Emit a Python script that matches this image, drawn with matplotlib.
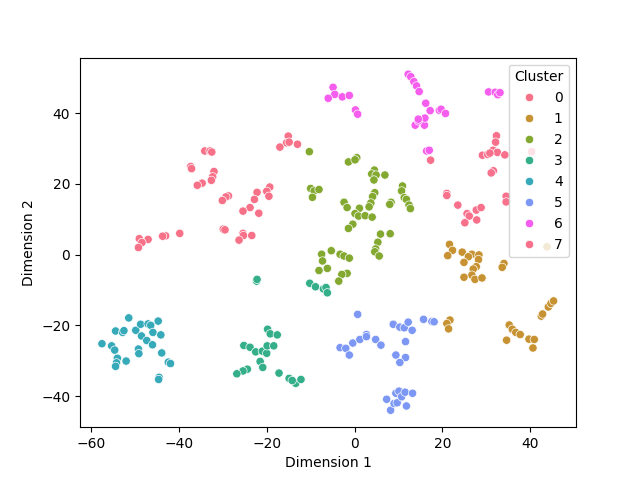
import numpy as np
import pandas as pd
import matplotlib
matplotlib.use('Agg')
import matplotlib.pyplot as plt
import seaborn as sns

# ── Embedding coordinates, read per cluster ─────────────────────────────────
c0_x = [-34.1, -32.9, -32.5, -37.3, -37.1, -32.0, -32.3, -32.6, -34.7, -35.8,
        -19.3, -20.0, -19.5, -22.2, -22.8, -23.8, -25.4, -21.8, -28.7, -29.3,
        -30.1, -29.9, -29.5, -25.4, -25.3, -23.4, -26.3, -39.8, -43.0, -43.7,
        -47.0, -49.0, -48.4, -49.2, -15.1, -15.5, -14.9, -17.0, -13.0]
c0_y = [29.3, 29.3, 29.0, 24.9, 24.3, 23.5, 22.0, 21.0, 20.2, 19.6,
        19.1, 17.9, 16.5, 17.6, 15.6, 13.3, 12.3, 11.7, 16.6, 16.3,
        15.3, 7.2, 7.0, 6.0, 5.4, 5.4, 4.1, 6.0, 5.3, 5.2,
        4.3, 4.5, 3.4, 2.0, 33.5, 31.6, 31.8, 30.4, 31.2]

c1_x = [21.6, 22.3, 21.2, 24.5, 26.7, 25.9, 28.3, 28.2, 24.9, 27.7,
        27.0, 26.7, 24.9, 27.4, 29.0, 34.0, 33.6, 43.8,
        21.7, 21.0, 21.4, 35.2, 35.9, 36.7, 37.7, 34.6, 39.7, 40.9,
        40.6, 42.5, 42.8, 44.1, 44.7, 45.3]
c1_y = [2.9, 1.2, -0.3, 0.7, 0.1, -0.6, -0.1, -1.4, -2.2, -3.4,
        -4.1, -5.8, -6.4, -7.0, -6.6, -2.5, -3.6, 2.2,
        -18.5, -19.5, -21.0, -19.9, -21.1, -22.0, -22.6, -24.2, -23.9, -24.0,
        -26.4, -17.4, -16.8, -14.8, -13.8, -13.1]

c2_x = [-10.3, -1.4, 0.5, 0.1, 4.5, 3.9, 4.9, 6.9, 4.4, 10.9,
        10.7, 11.3, 11.8, 12.4, 12.7, 4.6, 4.1, 3.7, 3.3, 8.3,
        8.0, -10.0, -9.2, -8.1, -9.6, -2.4, -1.7, 1.1, 0.1, 0.9,
        2.4, 4.0, -0.4, -1.4, 5.9, 8.1, 5.3, 4.8, 4.6, 5.6,
        -7.5, -5.3, -7.3, -6.2, -8.1, -3.3, -2.4, -1.2, -1.7, -2.9,
        -3.6]
c2_y = [29.1, 26.2, 27.4, 26.8, 23.9, 22.8, 22.5, 22.5, 21.1, 19.4,
        18.0, 16.1, 15.6, 14.0, 13.0, 17.5, 16.4, 14.6, 13.5, 14.8,
        14.2, 18.7, 18.0, 18.4, 16.2, 14.8, 13.3, 13.1, 11.6, 10.9,
        11.0, 10.6, 8.6, 7.4, 5.8, 5.9, 3.5, 1.6, 0.8, -0.4,
        0.1, 1.1, -1.8, -3.9, -4.5, 0.1, -0.4, -1.0, -5.3, -5.6,
        -7.5]

c3_x = [-22.3, -22.2, -10.2, -8.9, -7.1, -6.5, -6.2,
        -19.8, -19.2, -17.6, -25.2, -23.8, -22.5, -21.0, -20.0, -19.9,
        -18.4, -21.5, -20.9, -24.4, -25.4, -26.8, -17.2, -14.9, -13.4,
        -12.2, -14.2]
c3_y = [-7.5, -7.0, -8.1, -9.1, -9.7, -9.3, -10.8,
        -21.1, -22.4, -22.7, -25.7, -26.2, -27.5, -27.3, -27.9, -25.8,
        -25.8, -30.2, -31.9, -32.4, -32.9, -33.7, -33.5, -35.0, -36.4,
        -35.3, -35.6]

c4_x = [-51.4, -54.4, -52.8, -52.5, -57.5, -55.3, -54.6, -54.0, -54.2, -54.4,
        -52.0, -49.8, -48.7, -47.0, -46.4, -44.7, -48.5, -47.3, -45.9, -44.1,
        -46.0, -49.2, -49.1, -43.9, -42.4, -41.9, -44.5, -44.6]
c4_y = [-17.9, -21.6, -22.0, -21.5, -25.2, -25.8, -27.0, -29.3, -30.6, -31.6,
        -30.1, -21.4, -19.7, -19.6, -20.0, -18.8, -23.0, -24.3, -22.0, -22.7,
        -25.5, -26.7, -28.0, -27.8, -30.4, -30.8, -34.7, -35.3]

c5_x = [0.7, 8.8, 10.3, 11.3, 12.2, 13.1, 15.7, 17.6, 18.1, 11.6,
        -3.3, -2.0, -1.2, -0.4, 1.2, 2.7, 2.7, 4.8, 6.0, 9.4,
        11.6, 10.3, 7.3, 8.2, 9.0, 9.7, 9.4, 10.1, 10.7, 11.5,
        13.2, 11.8]
c5_y = [-16.9, -19.7, -20.5, -20.7, -19.1, -21.4, -18.3, -18.9, -19.0, -24.6,
        -26.3, -26.5, -28.4, -25.0, -24.0, -22.6, -23.2, -24.0, -25.6, -28.4,
        -29.1, -30.5, -40.9, -44.0, -42.1, -41.9, -39.2, -38.6, -40.2, -38.9,
        -39.2, -42.8]

c6_x = [13.8, 15.9, 14.5, 16.4, 17.0, 12.2, 12.8, 13.5, 14.1, 14.7,
        16.2, 17.2, 19.3, 19.7, 20.7, 16.0, 14.5, -4.9, -4.5, -6.0,
        -2.8, -1.2, 0.2, 0.7, 30.5, 32.0, 32.6, 33.1]
c6_y = [36.6, 36.6, 37.8, 29.3, 29.5, 51.0, 50.3, 48.9, 47.7, 46.1,
        42.8, 40.7, 40.8, 41.1, 39.9, 38.6, 38.3, 47.3, 45.3, 44.2,
        44.6, 45.0, 40.9, 39.7, 46.0, 45.9, 45.2, 45.8]

c7_x = [17.3, 40.3, 32.3, 32.1, 31.5, 32.5, 34.2, 29.1, 30.3, 30.8,
        31.6, 31.1, 34.5, 34.5, 21.0, 21.0, 23.5, 25.6, 26.1, 27.7,
        28.8, 27.8, 25.1]
c7_y = [26.7, 29.1, 33.6, 31.8, 29.5, 28.9, 28.2, 28.1, 28.3, 28.7,
        23.7, 23.1, 16.5, 14.9, 17.3, 16.7, 14.0, 11.6, 10.9, 12.6,
        13.3, 9.8, 9.0]

xs = [c0_x, c1_x, c2_x, c3_x, c4_x, c5_x, c6_x, c7_x]
ys = [c0_y, c1_y, c2_y, c3_y, c4_y, c5_y, c6_y, c7_y]

frames = []
for k, (cx_, cy_) in enumerate(zip(xs, ys)):
    frames.append(pd.DataFrame({'Dimension 1': cx_, 'Dimension 2': cy_, 'Cluster': k}))
df = pd.concat(frames, ignore_index=True)

fig, ax = plt.subplots(figsize=(6.4, 4.8), dpi=100)
sns.scatterplot(data=df, x='Dimension 1', y='Dimension 2', hue='Cluster',
                palette='husl', legend='full', ax=ax)
ax.set_xlim(-62.5, 50.4)
ax.set_ylim(-48.8, 55.7)
sns.move_legend(ax, 'upper right')

plt.savefig('out.png', dpi=100)
